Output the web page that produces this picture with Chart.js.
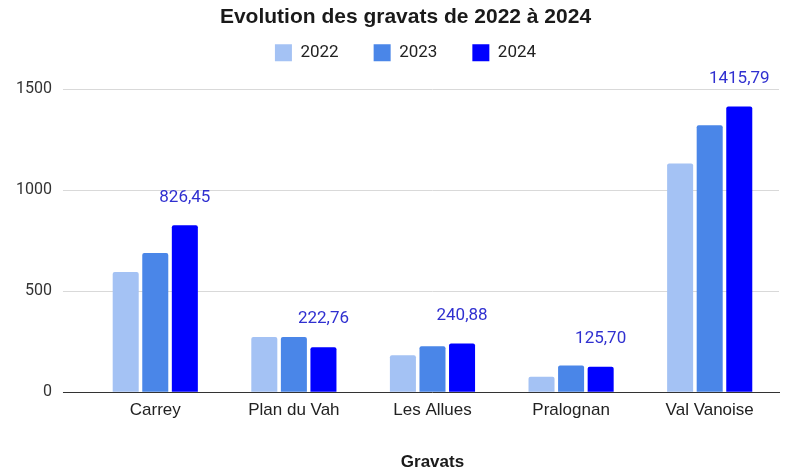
<!DOCTYPE html>
<html>
<head>
<meta charset="utf-8">
<script src="https://cdn.jsdelivr.net/npm/chart.js@4/dist/chart.umd.min.js"></script>
<style>
html,body{margin:0;padding:0;background:#fff;}
#wrap{width:812px;height:475px;position:relative;}
</style>
</head>
<body>
<div id="wrap"><canvas id="c"></canvas></div>
<script>
const categories = ["Carrey", "Plan du Vah", "Les Allues", "Pralognan", "Val Vanoise"];
const seriesNames = ["2022", "2023", "2024"];
const values2022 = [596, 274, 183, 76, 1133];
const values2023 = [690, 274, 228, 132, 1323];
const values2024 = [826.45, 222.76, 240.88, 125.70, 1415.79];
const yTicks = [0, 500, 1000, 1500];
const colors = ["#a4c2f4", "#4a86e8", "#0000ff"];

const labelPlugin = {
  id: 'valueLabels',
  afterDatasetsDraw(chart) {
    const ctx = chart.ctx;
    const meta = chart.getDatasetMeta(2);
    ctx.save();
    ctx.font = '17px Roboto, "Liberation Sans", Arial, sans-serif';
    ctx.fillStyle = '#3030d0';
    ctx.textAlign = 'center';
    ctx.textBaseline = 'middle';
    meta.data.forEach((bar, i) => {
      const v = values2024[i];
      ctx.fillText(v.toFixed(2).replace('.', ','), bar.x, bar.y - 28);
    });
    ctx.restore();
  }
};

new Chart(document.getElementById('c'), {
  type: 'bar',
  data: {
    labels: categories,
    datasets: [values2022, values2023, values2024].map((d, i) => ({
      label: seriesNames[i],
      data: d,
      backgroundColor: colors[i],
      borderRadius: 2,
      categoryPercentage: 0.64,
      barPercentage: 0.88
    }))
  },
  plugins: [labelPlugin],
  options: {
    responsive: true,
    maintainAspectRatio: false,
    animation: false,
    layout: { padding: { left: 5, right: 6, top: 0, bottom: 0 } },
    plugins: {
      tooltip: { enabled: false },
      title: {
        display: true,
        text: 'Evolution des gravats de 2022 à 2024',
        color: '#1a1a1a',
        font: { family: '"Liberation Sans", Arial, sans-serif', size: 21, weight: 'bold' },
        padding: { top: 5, bottom: -21 }
      },
      subtitle: {
        display: true,
        text: ' ',
        weight: 500,
        font: { size: 1 },
        padding: { top: 17, bottom: 0 }
      },
      legend: {
        position: 'top',
        labels: {
          color: '#222',
          font: { family: 'Roboto, "Liberation Sans", Arial, sans-serif', size: 17 },
          boxWidth: 17,
          boxHeight: 17,
          padding: 35
        }
      }
    },
    scales: {
      x: {
        grid: { display: false, drawTicks: false },
        border: { color: '#333', width: 1 },
        ticks: {
          color: '#222',
          padding: 8,
          font: { family: '"Liberation Sans", Arial, sans-serif', size: 17 }
        },
        title: {
          display: true,
          text: 'Gravats',
          color: '#1a1a1a',
          font: { family: '"Liberation Sans", Arial, sans-serif', size: 17, weight: 'bold' },
          padding: { top: 24, bottom: 2 }
        }
      },
      y: {
        min: 0,
        max: 1500,
        afterBuildTicks(scale) { scale.ticks = yTicks.map(v => ({ value: v })); },
        border: { display: false },
        grid: {
          color: '#d9d9d9',
          tickLength: 23,
          tickColor: c => (c.tick && c.tick.value === 0) ? '#333' : '#d9d9d9'
        },
        ticks: {
          color: '#333',
          padding: 11,
          callback: v => String(v),
          font: { family: 'Roboto, "Liberation Sans", Arial, sans-serif', size: 16 }
        }
      },
      yRightSpace: {
        position: 'right',
        display: true,
        grid: { display: false, drawTicks: false },
        border: { display: false },
        ticks: { display: false },
        afterFit(scale) { scale.width = 27; }
      }
    }
  }
});
</script>
</body>
</html>
